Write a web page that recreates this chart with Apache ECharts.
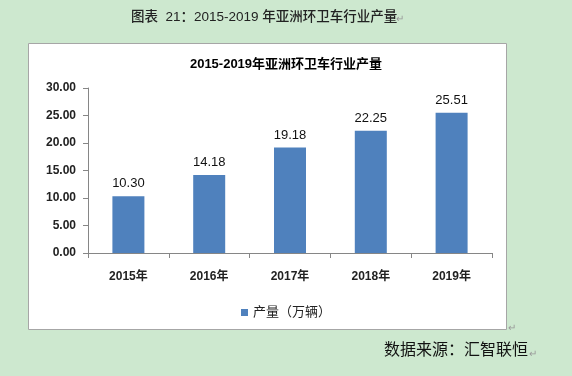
<!DOCTYPE html>
<html>
<head>
<meta charset="utf-8">
<script src="https://cdn.jsdelivr.net/npm/echarts@6/dist/echarts.min.js"></script>
<style>
  html, body { margin: 0; padding: 0; background: #cde8cf; }
  #main { width: 572px; height: 376px; }
</style>
</head>
<body>
<div id="main"></div>
<script>
const years = ['2015年', '2016年', '2017年', '2018年', '2019年'];
const output = [10.30, 14.18, 19.18, 22.25, 25.51];
const seriesName = '产量（万辆）';

const font = '"Liberation Sans", "Noto Sans CJK SC", sans-serif';

const myChart = echarts.init(document.getElementById('main'));
myChart.setOption({
  backgroundColor: '#cde8cf',
  animation: false,
  textStyle: { fontFamily: font },
  graphic: [
    {
      type: 'rect',
      shape: { x: 28.5, y: 43.5, width: 478, height: 286 },
      style: { fill: '#ffffff', stroke: '#a6a6a6', lineWidth: 1 },
      z: -10,
    },
    {
      type: 'text',
      left: 131,
      top: 11,
      style: {
        text: '图表  21：2015-2019 年亚洲环卫车行业产量',
        fill: '#222',
        font: '500 13.5px ' + font,
      },
    },
    {
      type: 'text',
      left: 396,
      top: 14,
      style: { text: '↵', fill: '#999', font: '10px ' + font },
    },
    {
      type: 'text',
      left: 508,
      top: 323,
      style: { text: '↵', fill: '#999', font: '10px ' + font },
    },
    {
      type: 'text',
      left: 384,
      top: 343,
      style: { text: '数据来源：汇智联恒', fill: '#111', font: '16px ' + font },
    },
    {
      type: 'text',
      left: 529,
      top: 349,
      style: { text: '↵', fill: '#999', font: '10px ' + font },
    },
  ],
  title: {
    text: '2015-2019年亚洲环卫车行业产量',
    left: 'center',
    top: 53,
    textStyle: { fontSize: 13, fontWeight: 'bold', color: '#000', fontFamily: font },
  },
  legend: {
    data: [seriesName],
    top: 301,
    left: 'center',
    icon: 'rect',
    itemWidth: 7,
    itemHeight: 7,
    itemGap: 4,
    textStyle: { fontSize: 13, color: '#222', fontFamily: font },
  },
  grid: { left: 88, right: 80, top: 88, bottom: 123, containLabel: false },
  xAxis: {
    type: 'category',
    data: years,
    axisLine: { lineStyle: { color: '#868686', width: 1 } },
    axisTick: { show: true, length: 5, lineStyle: { color: '#868686' } },
    axisLabel: { fontSize: 12, fontWeight: 'bold', color: '#222', margin: 18, fontFamily: font },
  },
  yAxis: {
    type: 'value',
    min: 0,
    max: 30,
    interval: 5,
    axisLine: { show: true, lineStyle: { color: '#868686', width: 1 } },
    axisTick: { show: true, length: 5, lineStyle: { color: '#868686' } },
    splitLine: { show: false },
    axisLabel: {
      fontSize: 12,
      fontWeight: 'bold',
      color: '#222',
      margin: 12,
      fontFamily: font,
      formatter: v => v.toFixed(2),
    },
  },
  series: [
    {
      name: seriesName,
      type: 'bar',
      barWidth: 32,
      data: output,
      itemStyle: { color: '#4f81bd' },
      label: {
        show: true,
        position: 'top',
        distance: 6,
        fontSize: 13,
        color: '#111',
        fontFamily: font,
        formatter: p => p.value.toFixed(2),
      },
    },
  ],
});
</script>
</body>
</html>
